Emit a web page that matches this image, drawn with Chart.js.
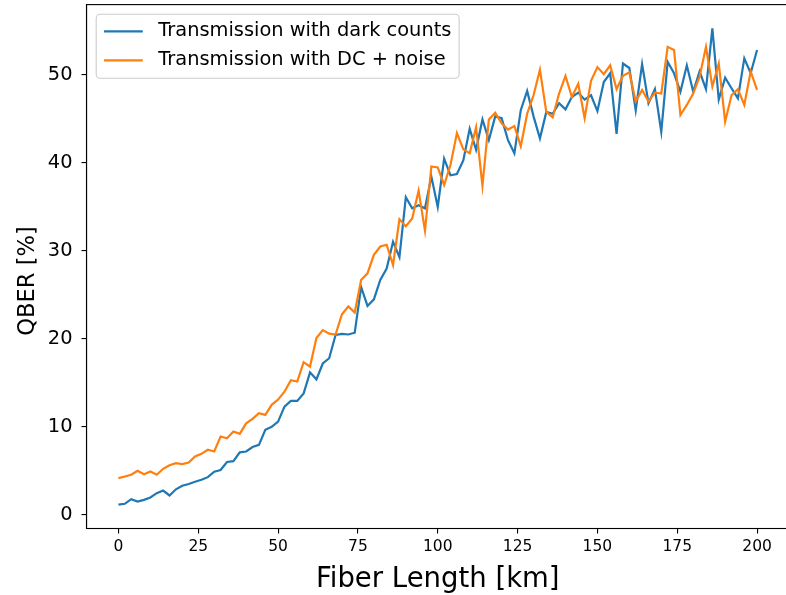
<!DOCTYPE html>
<html>
<head>
<meta charset="utf-8">
<script src="https://cdn.jsdelivr.net/npm/chart.js@4.4.1/dist/chart.umd.min.js"></script>
<style>
  html, body { margin: 0; padding: 0; background: #fff; overflow: hidden; }
  canvas { display: block; }
</style>
</head>
<body>
<canvas id="qber-chart" width="800" height="600"></canvas>
<script>
// fiber length in km, one sample every 2 km
const fiberLength = [
  0, 2, 4, 6, 8, 10, 12, 14, 16, 18, 20, 22, 24, 26, 28, 30, 32, 34, 36, 38,
  40, 42, 44, 46, 48, 50, 52, 54, 56, 58, 60, 62, 64, 66, 68, 70, 72, 74, 76, 78,
  80, 82, 84, 86, 88, 90, 92, 94, 96, 98, 100, 102, 104, 106, 108, 110, 112, 114, 116, 118,
  120, 122, 124, 126, 128, 130, 132, 134, 136, 138, 140, 142, 144, 146, 148, 150, 152, 154, 156, 158,
  160, 162, 164, 166, 168, 170, 172, 174, 176, 178, 180, 182, 184, 186, 188, 190, 192, 194, 196, 198,
  200
];

// QBER [%] with dark counts only
const qberDarkCounts = [
  1.15, 1.25, 1.78, 1.5, 1.7, 1.97, 2.46, 2.76, 2.2, 2.9, 3.3, 3.5, 3.75, 3.98, 4.28, 4.9, 5.1, 6.0, 6.1, 7.1,
  7.2, 7.7, 7.95, 9.66, 10.0, 10.6, 12.3, 12.95, 12.95, 13.8, 16.2, 15.4, 17.2, 17.8, 20.45, 20.57, 20.5, 20.7, 25.9, 23.75,
  24.5, 26.7, 28.0, 31.05, 29.3, 36.1, 34.85, 35.2, 34.85, 38.45, 35.0, 40.5, 38.6, 38.75, 40.3, 43.9, 41.5, 44.95, 42.6, 45.3,
  45.1, 42.6, 41.1, 46.0, 48.2, 45.3, 42.8, 45.8, 45.6, 46.8, 46.1, 47.5, 48.0, 47.2, 47.7, 45.9, 49.2, 50.2, 43.3, 51.3,
  50.8, 46.0, 51.25, 46.8, 48.4, 43.55, 51.5, 50.2, 48.1, 51.1, 48.1, 50.4, 48.4, 55.3, 47.2, 49.7, 48.5, 47.35, 51.9, 50.2,
  52.85
];

// QBER [%] with dark counts + noise
const qberDcNoise = [
  4.17, 4.36, 4.55, 5.0, 4.62, 4.92, 4.55, 5.23, 5.64, 5.87, 5.76, 5.95, 6.63, 6.93, 7.39, 7.2, 8.9, 8.7, 9.47, 9.2,
  10.4, 10.9, 11.55, 11.36, 12.5, 13.1, 14.0, 15.3, 15.15, 17.35, 16.85, 20.1, 21.0, 20.6, 20.5, 22.8, 23.7, 23.0, 26.7, 27.45,
  29.55, 30.5, 30.7, 28.4, 33.6, 32.8, 33.7, 36.85, 32.3, 39.6, 39.5, 37.5, 39.8, 43.4, 41.55, 41.1, 44.05, 37.4, 44.95, 45.7,
  44.5, 43.8, 44.2, 41.9, 45.6, 47.7, 50.6, 45.8, 45.2, 47.9, 49.9, 47.5, 49.0, 45.1, 49.35, 50.9, 50.1, 51.1, 48.4, 49.9,
  50.3, 47.0, 48.3, 47.0, 48.0, 47.9, 53.2, 52.85, 45.45, 46.6, 47.9, 49.8, 53.2, 48.7, 51.3, 44.7, 47.7, 48.4, 46.6, 50.4,
  48.3
];

const xTicks = [0, 25, 50, 75, 100, 125, 150, 175, 200];
const yTicks = [0, 10, 20, 30, 40, 50];
const seriesLabels = ["Transmission with dark counts", "Transmission with DC + noise"];
const seriesColors = ["#1f77b4", "#ff7f0e"];
const yAxisTitle = "QBER [%]";

const FONT = "'DejaVu Sans', sans-serif";

// matplotlib-like 5% margins around the data
const allY = qberDarkCounts.concat(qberDcNoise);
const yLo = Math.min(...allY), yHi = Math.max(...allY);
const yMin = yLo - 0.05 * (yHi - yLo);
const yMax = yHi + 0.05 * (yHi - yLo);
const xSpan = fiberLength[fiberLength.length - 1] - fiberLength[0];
const xMin = fiberLength[0] - 0.05 * xSpan;
const xMax = fiberLength[fiberLength.length - 1] + 0.05 * xSpan;

// Frame (all four spines), y title and the legend box in the upper left
const frameAndLegend = {
  id: "frameAndLegend",
  afterDatasetsDraw(chart) {
    const { ctx, chartArea: a } = chart;
    ctx.save();
    ctx.strokeStyle = "#000";
    ctx.lineWidth = 1.1;
    ctx.strokeRect(a.left, a.top, a.right - a.left, a.bottom - a.top);

    // y axis title, drawn a bit below the axis middle like the original
    ctx.save();
    ctx.translate(28, 281);
    ctx.rotate(-Math.PI / 2);
    ctx.font = "22.6px " + FONT;
    ctx.fillStyle = "#000";
    ctx.textAlign = "center";
    ctx.textBaseline = "middle";
    ctx.fillText(yAxisTitle, 0, 0);
    ctx.restore();

    const fs = 19.4;
    ctx.font = fs + "px " + FONT;
    const textW = Math.max(...seriesLabels.map((t) => ctx.measureText(t).width));
    const x0 = a.left + 0.5 * fs;
    const y0 = a.top + 0.5 * fs;
    const w = 0.4 * fs + 2 * fs + 0.8 * fs + textW + 0.4 * fs;
    const h = 64;

    ctx.beginPath();
    ctx.roundRect(x0, y0, w, h, 4);
    ctx.fillStyle = "rgba(255,255,255,0.8)";
    ctx.fill();
    ctx.strokeStyle = "#cccccc";
    ctx.lineWidth = 1.1;
    ctx.stroke();

    seriesLabels.forEach((label, i) => {
      const cy = y0 + 17 + i * 29;
      const hx = x0 + 0.4 * fs;
      ctx.beginPath();
      ctx.moveTo(hx, cy);
      ctx.lineTo(hx + 2 * fs, cy);
      ctx.strokeStyle = seriesColors[i];
      ctx.lineWidth = 2.2;
      ctx.stroke();
      ctx.fillStyle = "#000";
      ctx.textBaseline = "middle";
      ctx.textAlign = "left";
      ctx.fillText(label, hx + 2.8 * fs, cy);
    });
    ctx.restore();
  },
};

const ctx = document.getElementById("qber-chart").getContext("2d");
new Chart(ctx, {
  type: "line",
  data: {
    datasets: [
      {
        label: seriesLabels[0],
        data: fiberLength.map((x, i) => ({ x: x, y: qberDarkCounts[i] })),
        borderColor: seriesColors[0],
        borderWidth: 2.2,
        pointRadius: 0,
        tension: 0,
        order: 1,
      },
      {
        label: seriesLabels[1],
        data: fiberLength.map((x, i) => ({ x: x, y: qberDcNoise[i] })),
        borderColor: seriesColors[1],
        borderWidth: 2.2,
        pointRadius: 0,
        tension: 0,
        order: 0,
      },
    ],
  },
  options: {
    responsive: false,
    animation: false,
    layout: { padding: { top: 4.6, right: 11, left: 0, bottom: 0 } },
    plugins: {
      legend: { display: false },
      tooltip: { enabled: false },
    },
    scales: {
      x: {
        type: "linear",
        min: xMin,
        max: xMax,
        afterBuildTicks: (scale) => {
          scale.ticks = xTicks.map((v) => ({ value: v }));
        },
        afterFit: (scale) => {
          scale.height = 71.5;
          scale.paddingLeft = 0;
          scale.paddingRight = 0;
        },
        grid: { drawOnChartArea: false, drawTicks: true, tickLength: 5, tickColor: "#000", lineWidth: 1.1 },
        border: { display: true, color: "#000", width: 1.1 },
        ticks: { color: "#000", padding: 4, maxRotation: 0, font: { family: FONT, size: 15.5 } },
        title: {
          display: true,
          text: "Fiber Length [km]",
          color: "#000",
          font: { family: FONT, size: 27.5 },
          padding: { top: 0, bottom: 4 },
        },
      },
      y: {
        type: "linear",
        min: yMin,
        max: yMax,
        afterBuildTicks: (scale) => {
          scale.ticks = yTicks.map((v) => ({ value: v }));
        },
        afterFit: (scale) => {
          scale.width = 86.5;
          scale.paddingTop = 0;
          scale.paddingBottom = 0;
        },
        grid: { drawOnChartArea: false, drawTicks: true, tickLength: 5, tickColor: "#000", lineWidth: 1.1 },
        border: { display: true, color: "#000", width: 1.1 },
        ticks: { color: "#000", padding: 9, font: { family: FONT, size: 19.4 } },
        title: { display: false },
      },
    },
  },
  plugins: [frameAndLegend],
});
</script>
</body>
</html>
